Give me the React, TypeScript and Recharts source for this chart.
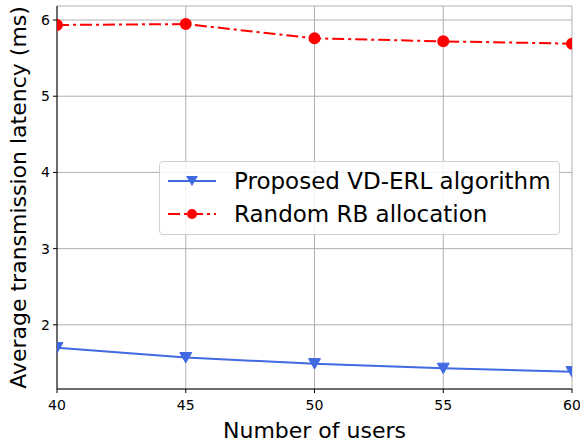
import React from 'react'
import { LineChart, Line, XAxis, YAxis, CartesianGrid, Label } from 'recharts'

const users = [40, 45, 50, 55, 60]
const proposed = [1.7, 1.57, 1.49, 1.43, 1.385]
const randomRB = [5.935, 5.947, 5.76, 5.72, 5.69]
const xTicks = [40, 45, 50, 55, 60]
const yTicks = [2, 3, 4, 5, 6]

const data = users.map((u, i) => ({ users: u, proposed: proposed[i], random: randomRB[i] }))

const FONT = '"DejaVu Sans", sans-serif'
const BLUE = '#4169e1'
const RED = '#ff0000'

function Triangle(props: any) {
    const { cx, cy } = props
    if (cx == null || cy == null) return null
    const s = 6
    return <path d={`M${cx - s},${cy - s * 0.85} L${cx + s},${cy - s * 0.85} L${cx},${cy + s * 0.9} Z`} fill={BLUE} stroke={BLUE} strokeWidth={1} />
}

function LegendBox() {
    const row = (kind: 'blue' | 'red', text: string) => (
        <div style={{ display: 'flex', alignItems: 'center', height: 33 }}>
            <svg width={50} height={20} style={{ marginRight: 16 }}>
                {kind === 'blue' ? (
                    <>
                        <line x1={0} y1={10} x2={48} y2={10} stroke={BLUE} strokeWidth={2} />
                        <path d="M18,5 L30,5 L24,15 Z" fill={BLUE} />
                    </>
                ) : (
                    <>
                        <line x1={0} y1={10} x2={48} y2={10} stroke={RED} strokeWidth={2} strokeDasharray="12 4 3 4" />
                        <circle cx={24} cy={10} r={5} fill={RED} />
                    </>
                )}
            </svg>
            <span>{text}</span>
        </div>
    )
    return (
        <div style={{
            position: 'absolute', left: 159, top: 161, boxSizing: 'border-box', width: 401, height: 74,
            fontFamily: FONT, fontSize: 23, color: '#000', background: 'rgba(255,255,255,0.85)',
            border: '1px solid #d0d0d0', borderRadius: 4, padding: '2px 6px 2px 8px',
        }}>
            {row('blue', 'Proposed VD-ERL algorithm')}
            {row('red', 'Random RB allocation')}
        </div>
    )
}

export default function App() {
    return (
        <div style={{ position: 'absolute', left: 0, top: 0, width: 580, height: 442, background: '#fff' }}>
            <LineChart width={580} height={442} data={data} margin={{ top: 6, right: 8, bottom: 0, left: 10 }}>
                <CartesianGrid stroke="#b0b0b0" strokeWidth={1} />
                <XAxis dataKey="users" type="number" domain={[40, 60]} ticks={xTicks} allowDataOverflow
                    height={53} stroke="#000" tickSize={4} tickMargin={7}
                    tick={{ fontSize: 14, fontFamily: FONT, fill: '#000' }}>
                    <Label value="Number of users" position="insideBottom" offset={4}
                        style={{ fontSize: 22, fontFamily: FONT, fill: '#000' }} />
                </XAxis>
                <XAxis xAxisId="top" orientation="top" type="number" domain={[40, 60]} height={0} tick={false} tickLine={false} stroke="#000" />
                <YAxis type="number" domain={[1.158, 6.184]} ticks={yTicks} allowDataOverflow width={47}
                    stroke="#000" tickSize={4} tickMargin={3}
                    tick={{ fontSize: 14, fontFamily: FONT, fill: '#000' }}>
                    <Label value="Average transmission latency (ms)" angle={-90} position="insideLeft" offset={8}
                        style={{ fontSize: 22, fontFamily: FONT, fill: '#000', textAnchor: 'middle' }} />
                </YAxis>
                <YAxis yAxisId="right" orientation="right" width={0} tick={false} tickLine={false} stroke="#000" />
                <Line dataKey="proposed" stroke={BLUE} strokeWidth={2} dot={<Triangle />} isAnimationActive={false} />
                <Line dataKey="random" stroke={RED} strokeWidth={2} strokeDasharray="12 4 3 4"
                    dot={{ r: 5, fill: RED, stroke: RED, strokeDasharray: '' }} isAnimationActive={false} />
            </LineChart>
            <LegendBox />
        </div>
    )
}
